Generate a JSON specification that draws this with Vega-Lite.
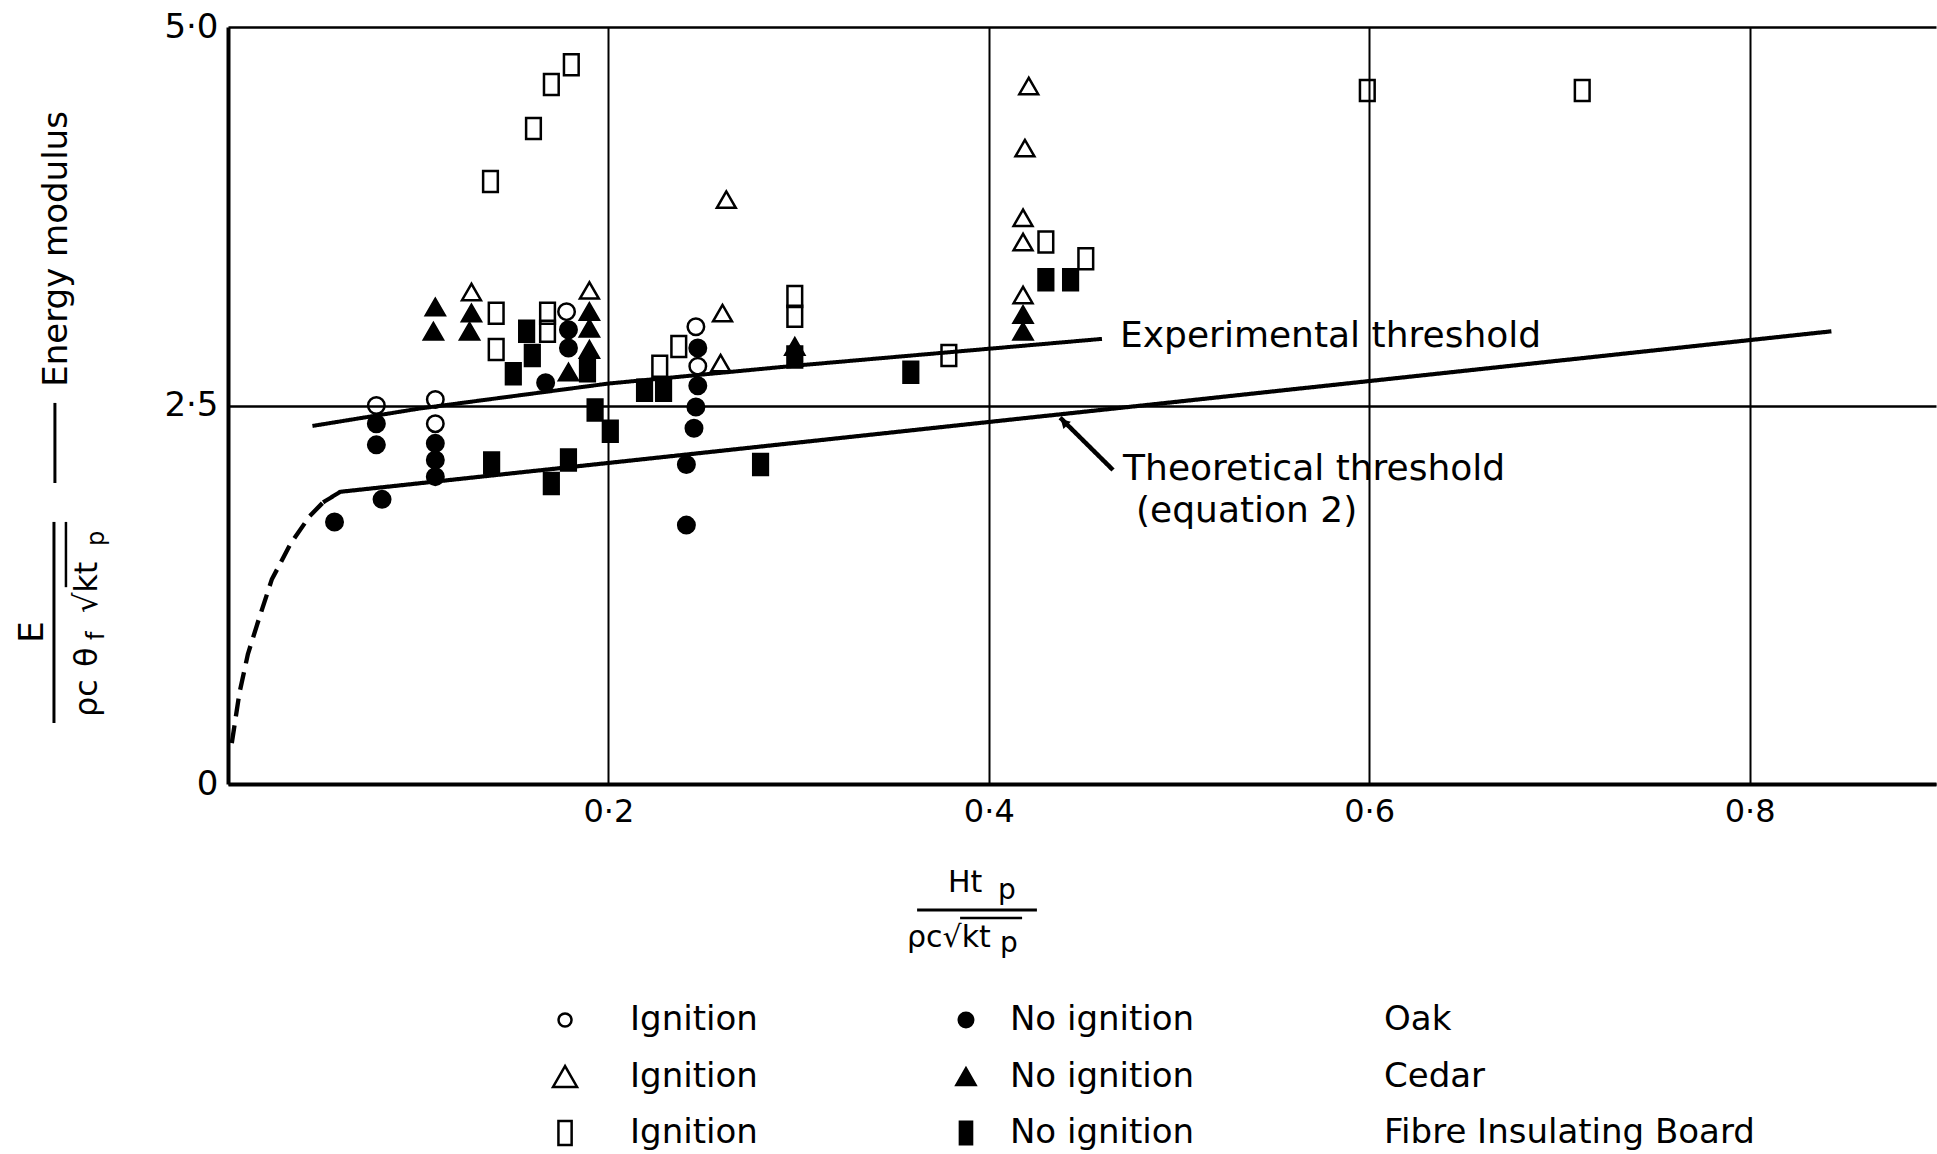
{
  "$schema": "https://vega.github.io/schema/vega-lite/v6.json",
  "width": 1708,
  "height": 757,
  "autosize": {"type": "none"},
  "padding": {"left": 228, "top": 27, "right": 1, "bottom": 370},
  "background": "white",
  "config": {
    "font": "DejaVu Sans",
    "view": {"stroke": null},
    "axis": {"domainColor": "black", "gridColor": "black", "labelColor": "black", "ticks": false, "labelFont": "DejaVu Sans", "gridOpacity": 1},
    "text": {"color": "black", "font": "DejaVu Sans"}
  },
  "datasets": {
    "points": [
      {"material": "Oak", "ignition": "Ignition", "x": 0.078, "y": 2.5},
      {"material": "Oak", "ignition": "Ignition", "x": 0.109, "y": 2.54},
      {"material": "Oak", "ignition": "Ignition", "x": 0.109, "y": 2.38},
      {"material": "Oak", "ignition": "Ignition", "x": 0.178, "y": 3.12},
      {"material": "Oak", "ignition": "Ignition", "x": 0.246, "y": 3.02},
      {"material": "Oak", "ignition": "Ignition", "x": 0.247, "y": 2.76},
      {"material": "Oak", "ignition": "No ignition", "x": 0.078, "y": 2.38},
      {"material": "Oak", "ignition": "No ignition", "x": 0.078, "y": 2.24},
      {"material": "Oak", "ignition": "No ignition", "x": 0.109, "y": 2.25},
      {"material": "Oak", "ignition": "No ignition", "x": 0.109, "y": 2.14},
      {"material": "Oak", "ignition": "No ignition", "x": 0.109, "y": 2.03},
      {"material": "Oak", "ignition": "No ignition", "x": 0.081, "y": 1.88},
      {"material": "Oak", "ignition": "No ignition", "x": 0.056, "y": 1.73},
      {"material": "Oak", "ignition": "No ignition", "x": 0.167, "y": 2.65},
      {"material": "Oak", "ignition": "No ignition", "x": 0.179, "y": 3.0},
      {"material": "Oak", "ignition": "No ignition", "x": 0.179, "y": 2.88},
      {"material": "Oak", "ignition": "No ignition", "x": 0.247, "y": 2.88},
      {"material": "Oak", "ignition": "No ignition", "x": 0.247, "y": 2.63},
      {"material": "Oak", "ignition": "No ignition", "x": 0.246, "y": 2.49},
      {"material": "Oak", "ignition": "No ignition", "x": 0.245, "y": 2.35},
      {"material": "Oak", "ignition": "No ignition", "x": 0.241, "y": 2.11},
      {"material": "Oak", "ignition": "No ignition", "x": 0.241, "y": 1.71},
      {"material": "Cedar", "ignition": "Ignition", "x": 0.128, "y": 3.25},
      {"material": "Cedar", "ignition": "Ignition", "x": 0.19, "y": 3.26},
      {"material": "Cedar", "ignition": "Ignition", "x": 0.26, "y": 3.11},
      {"material": "Cedar", "ignition": "Ignition", "x": 0.259, "y": 2.78},
      {"material": "Cedar", "ignition": "Ignition", "x": 0.262, "y": 3.86},
      {"material": "Cedar", "ignition": "Ignition", "x": 0.421, "y": 4.61},
      {"material": "Cedar", "ignition": "Ignition", "x": 0.419, "y": 4.2},
      {"material": "Cedar", "ignition": "Ignition", "x": 0.418, "y": 3.74},
      {"material": "Cedar", "ignition": "Ignition", "x": 0.418, "y": 3.58},
      {"material": "Cedar", "ignition": "Ignition", "x": 0.418, "y": 3.23},
      {"material": "Cedar", "ignition": "No ignition", "x": 0.109, "y": 3.15},
      {"material": "Cedar", "ignition": "No ignition", "x": 0.108, "y": 2.99},
      {"material": "Cedar", "ignition": "No ignition", "x": 0.128, "y": 3.11},
      {"material": "Cedar", "ignition": "No ignition", "x": 0.127, "y": 2.99},
      {"material": "Cedar", "ignition": "No ignition", "x": 0.19, "y": 3.12},
      {"material": "Cedar", "ignition": "No ignition", "x": 0.19, "y": 3.01},
      {"material": "Cedar", "ignition": "No ignition", "x": 0.19, "y": 2.87},
      {"material": "Cedar", "ignition": "No ignition", "x": 0.179, "y": 2.72},
      {"material": "Cedar", "ignition": "No ignition", "x": 0.298, "y": 2.89},
      {"material": "Cedar", "ignition": "No ignition", "x": 0.418, "y": 3.1},
      {"material": "Cedar", "ignition": "No ignition", "x": 0.418, "y": 2.99},
      {"material": "Fibre Insulating Board", "ignition": "Ignition", "x": 0.1805, "y": 4.75},
      {"material": "Fibre Insulating Board", "ignition": "Ignition", "x": 0.17, "y": 4.62},
      {"material": "Fibre Insulating Board", "ignition": "Ignition", "x": 0.1606, "y": 4.33},
      {"material": "Fibre Insulating Board", "ignition": "Ignition", "x": 0.138, "y": 3.98},
      {"material": "Fibre Insulating Board", "ignition": "Ignition", "x": 0.599, "y": 4.58},
      {"material": "Fibre Insulating Board", "ignition": "Ignition", "x": 0.712, "y": 4.58},
      {"material": "Fibre Insulating Board", "ignition": "Ignition", "x": 0.43, "y": 3.58},
      {"material": "Fibre Insulating Board", "ignition": "Ignition", "x": 0.451, "y": 3.47},
      {"material": "Fibre Insulating Board", "ignition": "Ignition", "x": 0.298, "y": 3.22},
      {"material": "Fibre Insulating Board", "ignition": "Ignition", "x": 0.298, "y": 3.09},
      {"material": "Fibre Insulating Board", "ignition": "Ignition", "x": 0.141, "y": 3.11},
      {"material": "Fibre Insulating Board", "ignition": "Ignition", "x": 0.141, "y": 2.87},
      {"material": "Fibre Insulating Board", "ignition": "Ignition", "x": 0.168, "y": 3.11},
      {"material": "Fibre Insulating Board", "ignition": "Ignition", "x": 0.168, "y": 2.99},
      {"material": "Fibre Insulating Board", "ignition": "Ignition", "x": 0.227, "y": 2.76},
      {"material": "Fibre Insulating Board", "ignition": "Ignition", "x": 0.237, "y": 2.89},
      {"material": "Fibre Insulating Board", "ignition": "Ignition", "x": 0.379, "y": 2.83},
      {"material": "Fibre Insulating Board", "ignition": "No ignition", "x": 0.15, "y": 2.71},
      {"material": "Fibre Insulating Board", "ignition": "No ignition", "x": 0.157, "y": 2.99},
      {"material": "Fibre Insulating Board", "ignition": "No ignition", "x": 0.16, "y": 2.83},
      {"material": "Fibre Insulating Board", "ignition": "No ignition", "x": 0.189, "y": 2.73},
      {"material": "Fibre Insulating Board", "ignition": "No ignition", "x": 0.1386, "y": 2.12},
      {"material": "Fibre Insulating Board", "ignition": "No ignition", "x": 0.17, "y": 1.985},
      {"material": "Fibre Insulating Board", "ignition": "No ignition", "x": 0.179, "y": 2.14},
      {"material": "Fibre Insulating Board", "ignition": "No ignition", "x": 0.193, "y": 2.47},
      {"material": "Fibre Insulating Board", "ignition": "No ignition", "x": 0.201, "y": 2.33},
      {"material": "Fibre Insulating Board", "ignition": "No ignition", "x": 0.219, "y": 2.6},
      {"material": "Fibre Insulating Board", "ignition": "No ignition", "x": 0.229, "y": 2.6},
      {"material": "Fibre Insulating Board", "ignition": "No ignition", "x": 0.298, "y": 2.82},
      {"material": "Fibre Insulating Board", "ignition": "No ignition", "x": 0.28, "y": 2.11},
      {"material": "Fibre Insulating Board", "ignition": "No ignition", "x": 0.359, "y": 2.72},
      {"material": "Fibre Insulating Board", "ignition": "No ignition", "x": 0.43, "y": 3.33},
      {"material": "Fibre Insulating Board", "ignition": "No ignition", "x": 0.443, "y": 3.33}
    ],
    "lines": [
      {"series": "Experimental threshold", "x": 0.0444, "y": 2.365},
      {"series": "Experimental threshold", "x": 0.1007, "y": 2.48},
      {"series": "Experimental threshold", "x": 0.2, "y": 2.645},
      {"series": "Experimental threshold", "x": 0.3, "y": 2.765},
      {"series": "Experimental threshold", "x": 0.4595, "y": 2.94},
      {"series": "Theoretical threshold", "x": 0.05, "y": 1.86},
      {"series": "Theoretical threshold", "x": 0.059, "y": 1.93},
      {"series": "Theoretical threshold", "x": 0.843, "y": 2.99},
      {"series": "Theoretical extrapolation", "x": 0.002, "y": 0.27},
      {"series": "Theoretical extrapolation", "x": 0.006, "y": 0.6},
      {"series": "Theoretical extrapolation", "x": 0.0105, "y": 0.86},
      {"series": "Theoretical extrapolation", "x": 0.016, "y": 1.08},
      {"series": "Theoretical extrapolation", "x": 0.023, "y": 1.35},
      {"series": "Theoretical extrapolation", "x": 0.033, "y": 1.59},
      {"series": "Theoretical extrapolation", "x": 0.043, "y": 1.77},
      {"series": "Theoretical extrapolation", "x": 0.05, "y": 1.86},
      {"series": "Pointer", "x": 0.4653, "y": 2.074},
      {"series": "Pointer", "x": 0.4375, "y": 2.42}
    ]
  },
  "layer": [
    {
      "data": {"name": "lines"},
      "mark": {"type": "line", "color": "black", "strokeCap": "butt", "strokeJoin": "round"},
      "encoding": {
        "x": {"field": "x", "type": "quantitative", "title": null, "scale": {"domain": [0, 0.898], "nice": false, "zero": false}},
        "y": {"field": "y", "type": "quantitative", "title": null, "scale": {"domain": [0, 5], "nice": false, "zero": false}},
        "detail": {"field": "series"},
        "strokeDash": {"field": "series", "type": "nominal", "scale": {"domain": ["Experimental threshold", "Theoretical threshold", "Theoretical extrapolation", "Pointer"], "range": [[1, 0], [1, 0], [18, 9], [1, 0]]}, "legend": null},
        "strokeWidth": {"field": "series", "type": "ordinal", "scale": {"domain": ["Experimental threshold", "Theoretical threshold", "Theoretical extrapolation", "Pointer"], "range": [4, 4.5, 3.5, 2]}, "legend": null}
      }
    },
    {
      "data": {"name": "points"},
      "mark": {"type": "point", "filled": true, "stroke": "black", "strokeWidth": 2.5, "opacity": 1},
      "encoding": {
        "x": {"field": "x", "type": "quantitative", "title": null,
              "scale": {"domain": [0, 0.898], "nice": false, "zero": false},
              "axis": {"values": [0.2, 0.4, 0.6, 0.8], "grid": true, "gridWidth": 2, "domainWidth": 4, "labelFontSize": 32, "labelPadding": 12, "labelFlush": false, "labelExpr": "replace(format(datum.value,'.1f'),'.','·')"}},
        "y": {"field": "y", "type": "quantitative", "title": null,
              "scale": {"domain": [0, 5], "nice": false, "zero": false},
              "axis": {"values": [0, 2.5, 5], "grid": true, "gridWidth": 2.5, "domainWidth": 4, "labelFontSize": 34, "labelPadding": 10, "labelFlush": false, "labelExpr": "datum.value==0?'0':replace(format(datum.value,'.1f'),'.','·')"}},
        "shape": {"field": "material", "type": "nominal", "scale": {"domain": ["Oak", "Cedar", "Fibre Insulating Board"], "range": ["circle", "triangle-up", "M-0.7,-1L0.7,-1L0.7,1L-0.7,1Z"]}, "legend": null},
        "size": {"field": "material", "type": "ordinal", "scale": {"domain": ["Oak", "Cedar", "Fibre Insulating Board"], "range": [272, 441, 441]}, "legend": null},
        "fill": {"field": "ignition", "type": "nominal", "scale": {"domain": ["Ignition", "No ignition"], "range": ["transparent", "black"]}, "legend": null}
      }
    },
    {
      "data": {"values": [{}]},
      "mark": {"type": "point", "shape": "triangle-up", "filled": true, "color": "black", "size": 110, "angle": 315, "opacity": 1},
      "encoding": {"x": {"datum": 0.4395, "type": "quantitative", "title": null}, "y": {"datum": 2.39, "type": "quantitative", "title": null}}
    },
    {
      "data": {"values": [{}]},
      "mark": {"type": "text", "text": "Experimental threshold", "fontSize": 36, "align": "left", "baseline": "alphabetic"},
      "encoding": {"x": {"datum": 0.469, "type": "quantitative", "title": null}, "y": {"datum": 2.886, "type": "quantitative", "title": null}}
    },
    {
      "data": {"values": [{}]},
      "mark": {"type": "text", "text": "Theoretical threshold", "fontSize": 36, "align": "left", "baseline": "alphabetic"},
      "encoding": {"x": {"datum": 0.4706, "type": "quantitative", "title": null}, "y": {"datum": 2.008, "type": "quantitative", "title": null}}
    },
    {
      "data": {"values": [{}]},
      "mark": {"type": "text", "text": "(equation 2)", "fontSize": 36, "align": "left", "baseline": "alphabetic"},
      "encoding": {"x": {"datum": 0.4774, "type": "quantitative", "title": null}, "y": {"datum": 1.733, "type": "quantitative", "title": null}}
    },
    {
      "data": {"values": [{}]},
      "mark": {"type": "text", "text": "Ht", "fontSize": 30, "align": "left", "baseline": "alphabetic"},
      "encoding": {"x": {"datum": 0.3785, "type": "quantitative", "title": null}, "y": {"datum": -0.713, "type": "quantitative", "title": null}}
    },
    {
      "data": {"values": [{}]},
      "mark": {"type": "text", "text": "p", "fontSize": 28, "align": "left", "baseline": "alphabetic"},
      "encoding": {"x": {"datum": 0.4048, "type": "quantitative", "title": null}, "y": {"datum": -0.76, "type": "quantitative", "title": null}}
    },
    {
      "data": {"values": [{}]},
      "mark": {"type": "rule", "color": "black", "strokeWidth": 3},
      "encoding": {"x": {"datum": 0.3623, "type": "quantitative", "title": null}, "x2": {"datum": 0.4253}, "y": {"datum": -0.832, "type": "quantitative", "title": null}}
    },
    {
      "data": {"values": [{}]},
      "mark": {"type": "text", "text": "ρc√kt", "fontSize": 30, "align": "left", "baseline": "alphabetic"},
      "encoding": {"x": {"datum": 0.357, "type": "quantitative", "title": null}, "y": {"datum": -1.077, "type": "quantitative", "title": null}}
    },
    {
      "data": {"values": [{}]},
      "mark": {"type": "text", "text": "p", "fontSize": 28, "align": "left", "baseline": "alphabetic"},
      "encoding": {"x": {"datum": 0.4059, "type": "quantitative", "title": null}, "y": {"datum": -1.11, "type": "quantitative", "title": null}}
    },
    {
      "data": {"values": [{}]},
      "mark": {"type": "rule", "color": "black", "strokeWidth": 2.5},
      "encoding": {"x": {"datum": 0.3849, "type": "quantitative", "title": null}, "x2": {"datum": 0.4175}, "y": {"datum": -0.885, "type": "quantitative", "title": null}}
    },
    {
      "data": {"values": [{}]},
      "mark": {"type": "text", "text": "Energy modulus", "fontSize": 34, "align": "center", "baseline": "alphabetic", "angle": 270},
      "encoding": {"x": {"datum": -0.0846, "type": "quantitative", "title": null}, "y": {"datum": 3.534, "type": "quantitative", "title": null}}
    },
    {
      "data": {"values": [{}]},
      "mark": {"type": "rule", "color": "black", "strokeWidth": 3},
      "encoding": {"x": {"datum": -0.091, "type": "quantitative", "title": null}, "y": {"datum": 2.517, "type": "quantitative", "title": null}, "y2": {"datum": 1.988}}
    },
    {
      "data": {"values": [{}]},
      "mark": {"type": "rule", "color": "black", "strokeWidth": 3},
      "encoding": {"x": {"datum": -0.0915, "type": "quantitative", "title": null}, "y": {"datum": 1.731, "type": "quantitative", "title": null}, "y2": {"datum": 0.403}}
    },
    {
      "data": {"values": [{}]},
      "mark": {"type": "text", "text": "E", "fontSize": 34, "align": "center", "baseline": "alphabetic", "angle": 270},
      "encoding": {"x": {"datum": -0.0973, "type": "quantitative", "title": null}, "y": {"datum": 1.004, "type": "quantitative", "title": null}}
    },
    {
      "data": {"values": [{}]},
      "mark": {"type": "text", "text": "ρc", "fontSize": 32, "align": "left", "baseline": "alphabetic", "angle": 270},
      "encoding": {"x": {"datum": -0.0689, "type": "quantitative", "title": null}, "y": {"datum": 0.4425, "type": "quantitative", "title": null}}
    },
    {
      "data": {"values": [{}]},
      "mark": {"type": "text", "text": "θ", "fontSize": 32, "align": "left", "baseline": "alphabetic", "angle": 270},
      "encoding": {"x": {"datum": -0.0689, "type": "quantitative", "title": null}, "y": {"datum": 0.773, "type": "quantitative", "title": null}}
    },
    {
      "data": {"values": [{}]},
      "mark": {"type": "text", "text": "f", "fontSize": 24, "align": "left", "baseline": "alphabetic", "angle": 270},
      "encoding": {"x": {"datum": -0.0652, "type": "quantitative", "title": null}, "y": {"datum": 0.951, "type": "quantitative", "title": null}}
    },
    {
      "data": {"values": [{}]},
      "mark": {"type": "text", "text": "√kt", "fontSize": 32, "align": "left", "baseline": "alphabetic", "angle": 270},
      "encoding": {"x": {"datum": -0.0689, "type": "quantitative", "title": null}, "y": {"datum": 1.129, "type": "quantitative", "title": null}}
    },
    {
      "data": {"values": [{}]},
      "mark": {"type": "text", "text": "p", "fontSize": 24, "align": "left", "baseline": "alphabetic", "angle": 270},
      "encoding": {"x": {"datum": -0.0652, "type": "quantitative", "title": null}, "y": {"datum": 1.572, "type": "quantitative", "title": null}}
    },
    {
      "data": {"values": [{}]},
      "mark": {"type": "rule", "color": "black", "strokeWidth": 2.5},
      "encoding": {"x": {"datum": -0.0852, "type": "quantitative", "title": null}, "y": {"datum": 1.731, "type": "quantitative", "title": null}, "y2": {"datum": 1.3}}
    },
    {
      "data": {"values": [{}]},
      "mark": {"type": "point", "shape": "circle", "filled": true, "fill": "transparent", "stroke": "black", "strokeWidth": 2.5, "size": 169, "opacity": 1},
      "encoding": {"x": {"datum": 0.1772, "type": "quantitative", "title": null}, "y": {"datum": -1.559, "type": "quantitative", "title": null}}
    },
    {
      "data": {"values": [{}]},
      "mark": {"type": "point", "shape": "triangle-up", "filled": true, "fill": "transparent", "stroke": "black", "strokeWidth": 2.5, "size": 576, "opacity": 1},
      "encoding": {"x": {"datum": 0.1772, "type": "quantitative", "title": null}, "y": {"datum": -1.932, "type": "quantitative", "title": null}}
    },
    {
      "data": {"values": [{}]},
      "mark": {"type": "point", "shape": "M-0.55,-1L0.55,-1L0.55,1L-0.55,1Z", "filled": true, "fill": "transparent", "stroke": "black", "strokeWidth": 2.5, "size": 576, "opacity": 1},
      "encoding": {"x": {"datum": 0.1772, "type": "quantitative", "title": null}, "y": {"datum": -2.305, "type": "quantitative", "title": null}}
    },
    {
      "data": {"values": [{}]},
      "mark": {"type": "point", "shape": "circle", "filled": true, "fill": "black", "stroke": "black", "strokeWidth": 2, "size": 225, "opacity": 1},
      "encoding": {"x": {"datum": 0.388, "type": "quantitative", "title": null}, "y": {"datum": -1.559, "type": "quantitative", "title": null}}
    },
    {
      "data": {"values": [{}]},
      "mark": {"type": "point", "shape": "triangle-up", "filled": true, "fill": "black", "stroke": "black", "strokeWidth": 2, "size": 400, "opacity": 1},
      "encoding": {"x": {"datum": 0.388, "type": "quantitative", "title": null}, "y": {"datum": -1.932, "type": "quantitative", "title": null}}
    },
    {
      "data": {"values": [{}]},
      "mark": {"type": "point", "shape": "M-0.55,-1L0.55,-1L0.55,1L-0.55,1Z", "filled": true, "fill": "black", "stroke": "black", "strokeWidth": 2, "size": 529, "opacity": 1},
      "encoding": {"x": {"datum": 0.388, "type": "quantitative", "title": null}, "y": {"datum": -2.305, "type": "quantitative", "title": null}}
    },
    {
      "data": {"values": [{}]},
      "mark": {"type": "text", "text": ["Ignition", "Ignition", "Ignition"], "fontSize": 34, "lineHeight": 56.5, "align": "left", "baseline": "middle"},
      "encoding": {"x": {"datum": 0.2114, "type": "quantitative", "title": null}, "y": {"datum": -1.559, "type": "quantitative", "title": null}}
    },
    {
      "data": {"values": [{}]},
      "mark": {"type": "text", "text": ["No ignition", "No ignition", "No ignition"], "fontSize": 34, "lineHeight": 56.5, "align": "left", "baseline": "middle"},
      "encoding": {"x": {"datum": 0.4111, "type": "quantitative", "title": null}, "y": {"datum": -1.559, "type": "quantitative", "title": null}}
    },
    {
      "data": {"values": [{}]},
      "mark": {"type": "text", "text": ["Oak", "Cedar", "Fibre Insulating Board"], "fontSize": 34, "lineHeight": 56.5, "align": "left", "baseline": "middle"},
      "encoding": {"x": {"datum": 0.6078, "type": "quantitative", "title": null}, "y": {"datum": -1.559, "type": "quantitative", "title": null}}
    }
  ]
}
